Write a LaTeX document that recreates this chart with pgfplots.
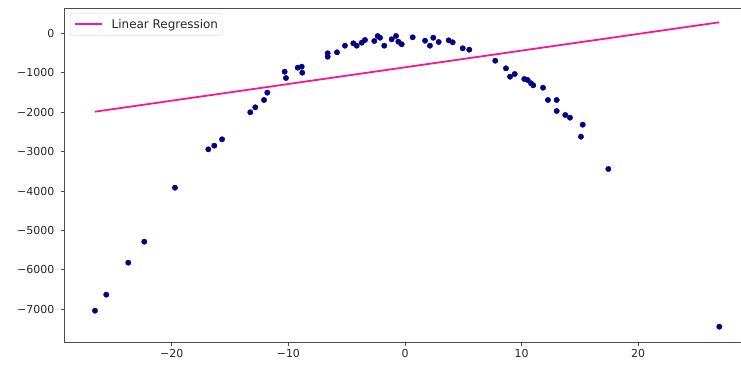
\documentclass[border=0pt]{standalone}
\usepackage{fontspec}
\setmainfont{DejaVu Sans}
\usepackage{pgfplots}
\pgfplotsset{compat=1.18}
\definecolor{navypts}{HTML}{000080}
\definecolor{dpink}{HTML}{FF1493}
\begin{document}
\begin{tikzpicture}
\begin{axis}[
  at={(0bp,0bp)}, anchor=south west,
  scale only axis, width=685.8bp, height=334.3bp,
  xmin=-29.22, xmax=29.6, ymin=-7837, ymax=642,
  axis line style={black!70, line width=0.9bp},
  xtick={-20,-10,0,10,20}, xticklabels={−20,−10,0,10,20},
  ytick={-7000,-6000,-5000,-4000,-3000,-2000,-1000,0},
  yticklabels={−7000,−6000,−5000,−4000,−3000,−2000,−1000,0},
  tick align=outside, tick pos=left, major tick length=3.5bp,
  tick style={black!70, line width=0.8bp},
  ticklabel style={font=\fontsize{11}{13}\selectfont, text=black!85},
  yticklabel style={xshift=-3bp},
  legend style={at={(0,1)}, anchor=north west, xshift=5.7bp, yshift=-5.3bp,
    draw=black!20, rounded corners=2bp, fill=white,
    font=\fontsize{12}{14}\selectfont, text=black!85,
    inner xsep=4bp, inner ysep=3.5bp,
    nodes={inner xsep=0bp, inner ysep=2bp}, column sep=9bp},
  legend cell align=left,
  legend image code/.code={\draw[#1] (0bp,0bp) -- (26.7bp,0bp);},
]
\addplot[only marks, mark=*, mark size=2.7bp, color=navypts, forget plot] coordinates {
(-26.59,-7035) (-25.62,-6629) (-23.73,-5818) (-22.36,-5285) (-19.73,-3916)
(-16.87,-2942) (-16.36,-2850) (-15.69,-2688) (-13.27,-2003) (-12.84,-1877)
(-12.09,-1691) (-11.81,-1506) (-10.32,-974) (-10.21,-1134) (-9.20,-872)
(-8.86,-847) (-8.81,-999) (-6.63,-507) (-6.63,-593) (-5.83,-482)
(-5.15,-314) (-4.43,-254) (-4.14,-314) (-3.71,-238) (-3.43,-170)
(-2.63,-195) (-2.34,-68) (-2.14,-112) (-1.78,-314) (-1.14,-152)
(-0.77,-68) (-0.57,-213) (-0.28,-279) (0.66,-101) (1.72,-188)
(2.14,-314) (2.43,-112) (2.89,-221) (3.75,-178) (4.09,-228)
(4.95,-380) (5.51,-416) (7.74,-695) (8.66,-888) (9.01,-1101)
(9.41,-1032) (10.23,-1159) (10.52,-1184) (10.81,-1268) (11.00,-1319)
(11.84,-1380) (12.26,-1691) (13.01,-1691) (13.01,-1970) (13.75,-2072)
(14.15,-2140) (15.24,-2318) (15.09,-2622) (17.44,-3441) (26.96,-7441)
};
\addplot[color=dpink, line width=1.8bp, no marks] coordinates {(-26.59,-1988) (26.96,279)};
\addlegendentry{Linear Regression}
\end{axis}
\pgfresetboundingbox
\useasboundingbox (-64.3bp,-24.7bp) rectangle (676.7bp,342.3bp);
\end{tikzpicture}
\end{document}
